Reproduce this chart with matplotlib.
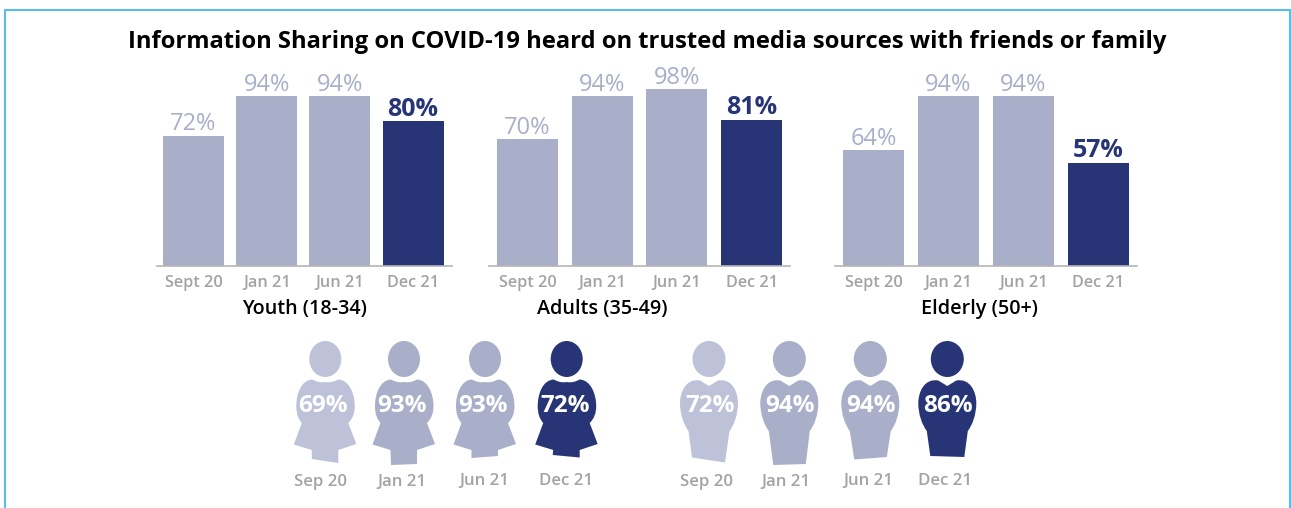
### Information sharing bars per age group, plus the gender icons underneath

import matplotlib
matplotlib.use('Agg')
import matplotlib.pyplot as plt
from matplotlib.patches import Ellipse, PathPatch
from matplotlib.path import Path

plt.rcParams['font.family'] = ['Open Sans', 'DejaVu Sans']

W, H = 1291, 508

### Data
title = 'Information Sharing on COVID-19 heard on trusted media sources with friends or family'
months = ['Sept 20', 'Jan 21', 'Jun 21', 'Dec 21']
youth = [72, 94, 94, 80]
adults = [70, 94, 98, 81]
elderly = [64, 94, 94, 57]
group_names = ['Youth (18-34)', 'Adults (35-49)', 'Elderly (50+)']

icon_months_f = ['Sep 20', 'Jan 21', 'Jun 21', 'Dec 21']
icon_months_m = ['Sep 20', 'Jan 21', 'Jun 21', 'Dec 21']
female = [69, 93, 93, 72]
male = [72, 94, 94, 86]

### Colours
LIGHT = '#A9AEC9'
PALE = '#BDC2D8'
DARK = '#273577'
GREY = '#A3A3A3'
FRAME = '#5BBDE6'


def px_axes(left, right, top, bottom):
    return fig.add_axes([left / W, 1 - bottom / H, (right - left) / W, (bottom - top) / H])


fig = plt.figure(figsize=(W / 100, H / 100), dpi=100)

### Overlay in pixel units for the frame, title and icons
bg = px_axes(0, W, 0, H)
bg.set_xlim(0, W)
bg.set_ylim(H, 0)
bg.axis('off')
bg.plot([5, 5, 1289.5, 1289.5], [H, 9.5, 9.5, H], color=FRAME, lw=1.5, solid_joinstyle='miter')
bg.text(647.5, 42, title, ha='center', va='center', fontsize=17.13, fontweight='bold', color='black')

### Bar panels: (values, axis start, axis end, first bar centre, bar spacing, group label x)
panels = [
    (youth, 157, 452, 193.5, 73.2, 304.5),
    (adults, 489, 790, 527.5, 74.7, 602.5),
    (elderly, 835, 1137, 873.5, 75.0, 979),
]

for (values, x0, x1, c0, step, name_x), name in zip(panels, group_names):
    ax = px_axes(x0, x1, 50, 265.5)
    ax.patch.set_alpha(0)
    pos = list(range(len(values)))
    colors = [LIGHT, LIGHT, LIGHT, DARK]
    bars = ax.bar(pos, values, width=61 / step, color=colors)
    ax.set_xlim((x0 - c0) / step, (x1 - c0) / step)
    ax.set_ylim(0, 215.5 / 1.8)
    ax.set_yticks([])
    for s in ['top', 'left', 'right']:
        ax.spines[s].set_visible(False)
    ax.spines['bottom'].set_color('#B5B5B5')
    ax.spines['bottom'].set_linewidth(1.2)
    ax.set_xticks(pos)
    ax.set_xticklabels(months, fontsize=11.7, fontweight='semibold', color=GREY)
    ax.tick_params(axis='x', length=0, pad=7)
    bg.text(name_x, 309, name, ha='center', va='center', fontsize=14.2, fontweight='semibold', color='black')
    for i, (b, v) in enumerate(zip(bars, values)):
        last = i == len(values) - 1
        ax.annotate(str(v) + '%', (b.get_x() + b.get_width() / 2, v), xytext=(0, -0.3),
                    textcoords='offset points', ha='center', va='bottom',
                    fontsize=18 if last else 17,
                    fontweight='bold' if last else 'medium', color=DARK if last else LIGHT)


def female_icon(cx, cy, color, hem):
    ### Outline relative to the head centre, hem gives the four points of the skirt foot
    verts = [(0, 23),
             (-5, 24), (-9, 22.5), (-13, 20.5),
             (-24, 21), (-29, 35), (-29, 47),
             (-29, 55), (-27, 60), (-23.5, 64),
             (-31.5, 85.5), (-13.5, 91), hem[0], hem[1], hem[2], hem[3],
             (13, 91), (31, 85), (23, 64),
             (27, 60), (29.5, 55), (29.5, 47),
             (29.5, 35), (24, 21), (13, 20.5),
             (9, 22.5), (5, 24), (0, 23), (0, 23)]
    codes = [Path.MOVETO,
             Path.CURVE4, Path.CURVE4, Path.CURVE4,
             Path.CURVE4, Path.CURVE4, Path.CURVE4,
             Path.CURVE4, Path.CURVE4, Path.CURVE4,
             Path.LINETO, Path.LINETO, Path.LINETO, Path.LINETO, Path.LINETO, Path.LINETO,
             Path.LINETO, Path.LINETO, Path.LINETO,
             Path.CURVE4, Path.CURVE4, Path.CURVE4,
             Path.CURVE4, Path.CURVE4, Path.CURVE4,
             Path.CURVE4, Path.CURVE4, Path.CURVE4, Path.CLOSEPOLY]
    verts = [(cx + x, cy + y) for x, y in verts]
    bg.add_patch(PathPatch(Path(verts, codes), fc=color, ec='none'))
    bg.add_patch(Ellipse((cx, cy), 32, 36, fc=color, ec='none'))


def male_icon(cx, cy, color, hem):
    ### Outline relative to the head centre, hem gives the two bottom corners
    verts = [(0, 27),
             (-9, 21.5),
             (-23, 19), (-29, 33), (-29, 44),
             (-29, 56), (-25, 66), (-20.5, 72),
             hem[0], hem[1], (20.5, 72),
             (25, 66), (29, 56), (29, 44),
             (29, 33), (23, 19), (9, 21.5),
             (0, 27), (0, 27)]
    codes = [Path.MOVETO,
             Path.LINETO,
             Path.CURVE4, Path.CURVE4, Path.CURVE4,
             Path.CURVE4, Path.CURVE4, Path.CURVE4,
             Path.LINETO, Path.LINETO, Path.LINETO,
             Path.CURVE4, Path.CURVE4, Path.CURVE4,
             Path.CURVE4, Path.CURVE4, Path.CURVE4,
             Path.LINETO, Path.CLOSEPOLY]
    verts = [(cx + x, cy + y) for x, y in verts]
    bg.add_patch(PathPatch(Path(verts, codes), fc=color, ec='none'))
    bg.add_patch(Ellipse((cx, cy), 33, 36, fc=color, ec='none'))


icon_colors = [PALE, LIGHT, LIGHT, DARK]

### Female row
female_x = [325.3, 404, 485, 566.7]
female_hem = [[(-13.5, 100), (13, 104)], [(-13, 106), (13, 105)],
              [(-13.5, 99), (13, 97)], [(-14, 96), (13, 98.5)]]
female_label_y = [482, 482, 481, 481]
female_label_x = [320.5, 402, 484.5, 566]
for i, v in enumerate(female):
    h = female_hem[i]
    female_icon(female_x[i], 359, icon_colors[i], [(-13.5, 91), h[0], h[1], (13, 91)])
    bg.text(female_x[i] - 2, 406, str(v) + '%', ha='center', va='center', color='white',
            fontsize=17.5, fontweight='bold')
    bg.text(female_label_x[i], female_label_y[i], icon_months_f[i], ha='center', va='center',
            color=GREY, fontsize=12.1, fontweight='semibold')

### Male row
male_x = [709, 789.3, 870.3, 947.3]
male_hem = [[(-17, 98.5), (16, 103.5)], [(-16, 106), (16.5, 105)],
            [(-16, 100.5), (16.5, 98)], [(-17, 97), (17, 98)]]
male_label_y = [482, 482, 481, 481]
male_label_x = [706, 786, 868, 945]
for i, v in enumerate(male):
    male_icon(male_x[i], 359, icon_colors[i], male_hem[i])
    bg.text(male_x[i] + 1, 406, str(v) + '%', ha='center', va='center', color='white',
            fontsize=17.5, fontweight='bold')
    bg.text(male_label_x[i], male_label_y[i], icon_months_m[i], ha='center', va='center',
            color=GREY, fontsize=12.1, fontweight='semibold')

fig.savefig('out.png', dpi=100)
